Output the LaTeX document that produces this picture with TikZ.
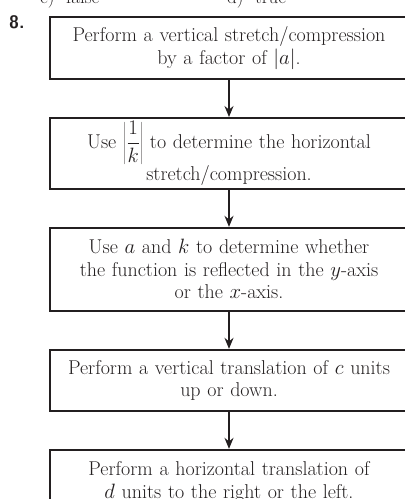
\documentclass[tikz,border=0pt]{standalone}
\usepackage{xcolor}
\definecolor{inkcolor}{HTML}{231f20}
\usepackage{tikz}
\usetikzlibrary{positioning, arrows.meta}
\newlength{\stepboxw}
\setlength{\stepboxw}{358pt}
\tikzset{
    % Step of the procedure
    stepbox/.style={ rectangle, draw=inkcolor, line width=2pt, text=inkcolor, minimum width=\stepboxw, text width=352pt, align=center, inner xsep=0pt, font=\fontsize{20}{22.5}\selectfont },
    % Connector
    steparrow/.style={ -{Stealth[length=11pt, width=9pt]}, draw=inkcolor, fill=inkcolor, line width=1.5pt },
}

\begin{document}
\begin{tikzpicture}[node distance=37pt]
    \useasboundingbox (0,0) rectangle (405pt,-499pt);

    % Cut-off answers of the previous exercise
    \node[anchor=base west, inner sep=0pt, text=inkcolor, font=\fontsize{19}{22}\selectfont] (prev-c) at (40pt,-3pt) {c)\ \ false};
    \node[anchor=base west, inner sep=0pt, text=inkcolor, font=\fontsize{19}{22}\selectfont] (prev-d) at (227pt,-3pt) {d)\ \ true};

    % Exercise number
    \node[anchor=north west, inner sep=0pt, text=inkcolor, font=\fontsize{18}{20}\sffamily\bfseries] (num) at (9pt,-15pt) {8.};

    % Steps
    \node[stepbox, minimum height=62pt, anchor=north west] (step-a) at (49pt,-16pt) {Perform a vertical stretch/compression\\ by a factor of $|a|$.};
    \node[stepbox, minimum height=67pt, below=of step-a] (step-k) {Use $\left|\displaystyle\frac{1}{k}\right|$ to determine the horizontal\\ stretch/compression.};
    \node[stepbox, minimum height=83pt, below=of step-k] (step-refl) {Use $a$ and $k$ to determine whether\\ the function is reflected in the $y$-axis\\ or the $x$-axis.};
    \node[stepbox, minimum height=61pt, below=of step-refl] (step-c) {Perform a vertical translation of $c$ units\\ up or down.};
    \node[stepbox, minimum height=64pt, below=of step-c] (step-d) {Perform a horizontal translation of\\ $d$ units to the right or the left.};

    \draw[steparrow] (step-a) to (step-k);
    \draw[steparrow] (step-k) to (step-refl);
    \draw[steparrow] (step-refl) to (step-c);
    \draw[steparrow] (step-c) to (step-d);
\end{tikzpicture}
\end{document}
